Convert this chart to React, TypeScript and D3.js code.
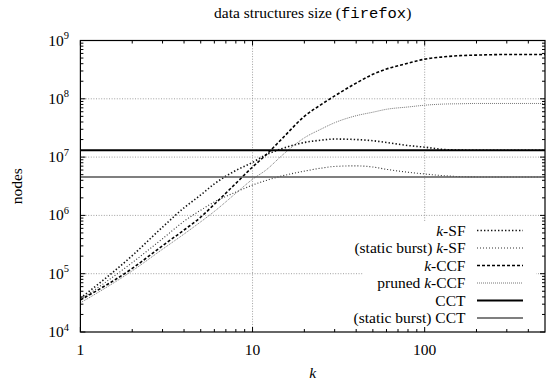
import React from 'react';
import * as d3 from 'd3';

// k values the series were sampled at
const kValues = [1, 2, 3, 4, 5, 6, 8, 10, 12, 15, 20, 25, 30, 40, 50, 60, 80, 100, 130, 160, 200, 300, 400, 500];

const kSF = [3.8e4, 2.04e5, 6.3e5, 1.35e6, 2.24e6, 3.47e6, 5.9e6, 8.1e6, 1.1e7, 1.41e7, 1.78e7, 1.95e7, 2.04e7, 2.0e7, 1.91e7, 1.78e7, 1.58e7, 1.48e7, 1.35e7, 1.32e7, 1.31e7, 1.31e7, 1.31e7, 1.31e7];
const staticKSF = [3.55e4, 1.55e5, 3.98e5, 7.94e5, 1.23e6, 1.7e6, 2.51e6, 3.31e6, 3.98e6, 4.79e6, 5.75e6, 6.46e6, 6.92e6, 7.08e6, 6.76e6, 6.17e6, 5.5e6, 5.13e6, 4.79e6, 4.62e6, 4.57e6, 4.56e6, 4.56e6, 4.56e6];
const kCCF = [3.55e4, 1.23e5, 3.02e5, 5.62e5, 9.33e5, 1.55e6, 3.55e6, 6.76e6, 1.1e7, 2.14e7, 5.0e7, 7.94e7, 1.12e8, 1.86e8, 2.63e8, 3.24e8, 4.07e8, 4.79e8, 5.25e8, 5.5e8, 5.62e8, 5.75e8, 5.75e8, 5.75e8];
const prunedKCCF = [3.16e4, 1.12e5, 2.63e5, 4.79e5, 7.76e5, 1.17e6, 2.4e6, 4.17e6, 6.03e6, 1.1e7, 2.14e7, 3.02e7, 3.89e7, 5.13e7, 5.89e7, 6.61e7, 7.24e7, 7.76e7, 8.13e7, 8.22e7, 8.32e7, 8.32e7, 8.32e7, 8.32e7];
const cctValue = 1.31e7;
const staticCctValue = 4.56e6;

const legendLabels = ['k-SF', '(static burst) k-SF', 'k-CCF', 'pruned k-CCF', 'CCT', '(static burst) CCT'];
const xTickValues = [1, 10, 100];
const yTickExponents = [4, 5, 6, 7, 8, 9];

const W = 550;
const H = 384;
const left = 80.4;
const right = 545;
const top = 40.5;
const bottom = 332;

const serif = '"Liberation Serif", "Times New Roman", serif';
const mono = '"Liberation Mono", "Courier New", monospace';
const fs = 15.5;

const styles = [
  { stroke: '#111', width: 1.6, dash: '1.4,2.1' },
  { stroke: '#333', width: 1.1, dash: '1,2' },
  { stroke: '#000', width: 1.6, dash: '3,2' },
  { stroke: '#777', width: 1, dash: '1,1' },
  { stroke: '#000', width: 2, dash: undefined },
  { stroke: '#555', width: 1.4, dash: undefined },
];

function Label({ text }: { text: string }) {
  const parts = text.split(/(\bk)(?=-)/);
  return (
    <>
      {parts.map((p, i) =>
        p === 'k' ? (
          <tspan key={i} fontStyle="italic">k</tspan>
        ) : (
          <tspan key={i}>{p}</tspan>
        )
      )}
    </>
  );
}

export default function App() {
  const x = d3.scaleLog().domain([1, 500]).range([left, right]);
  const y = d3.scaleLog().domain([1e4, 1e9]).range([bottom, top]);

  const line = d3
    .line<[number, number]>()
    .x((d) => x(d[0]))
    .y((d) => y(d[1]))
    .curve(d3.curveMonotoneX);

  const series = [
    kValues.map((k, i) => [k, kSF[i]] as [number, number]),
    kValues.map((k, i) => [k, staticKSF[i]] as [number, number]),
    kValues.map((k, i) => [k, kCCF[i]] as [number, number]),
    kValues.map((k, i) => [k, prunedKCCF[i]] as [number, number]),
    [[1, cctValue], [500, cctValue]] as [number, number][],
    [[1, staticCctValue], [500, staticCctValue]] as [number, number][],
  ];

  const xMinor: number[] = [];
  [1, 10, 100].forEach((d) => {
    for (let m = 2; m <= 9; m++) if (d * m < 500) xMinor.push(d * m);
  });
  const yMinor: number[] = [];
  [1e4, 1e5, 1e6, 1e7, 1e8].forEach((d) => {
    for (let m = 2; m <= 9; m++) yMinor.push(d * m);
  });

  const legendTextX = 465.5;
  const legendLine = [477, 523];
  const legendY0 = 230.5;
  const legendDy = 17.5;

  return (
    <svg width={W} height={H} style={{ position: 'absolute', left: 0, top: 0, background: '#fff', fontFamily: serif }}>
      <rect x={0} y={0} width={W} height={H} fill="#fff" />

      {/* title */}
      <text x={(left + right) / 2} y={18} textAnchor="middle" fontSize={fs}>
        data structures size (<tspan style={{ fontFamily: mono }}>firefox</tspan>)
      </text>

      {/* grid */}
      <g stroke="#888" strokeWidth={0.8} strokeDasharray="1,1.6">
        {xTickValues.slice(1).map((v) => (
          <line key={'gx' + v} x1={x(v)} x2={x(v)} y1={top} y2={bottom} />
        ))}
        {yTickExponents.slice(1, -1).map((e) => (
          <line key={'gy' + e} x1={left} x2={right} y1={y(10 ** e)} y2={y(10 ** e)} />
        ))}
      </g>

      {/* curves */}
      <g fill="none">
        {series.map((s, i) => (
          <path
            key={i}
            d={line(s) || ''}
            stroke={styles[i].stroke}
            strokeWidth={styles[i].width}
            strokeDasharray={styles[i].dash}
          />
        ))}
      </g>

      {/* legend */}
      <rect x={363} y={222} width={173} height={bottom - 222} fill="#fff" />
      {legendLabels.map((lab, i) => {
        const ly = legendY0 + i * legendDy;
        return (
          <g key={lab}>
            <text x={legendTextX} y={ly + 5} textAnchor="end" fontSize={fs}>
              <Label text={lab} />
            </text>
            <line
              x1={legendLine[0]}
              x2={legendLine[1]}
              y1={ly}
              y2={ly}
              stroke={styles[i].stroke}
              strokeWidth={styles[i].width}
              strokeDasharray={styles[i].dash}
            />
          </g>
        );
      })}

      {/* ticks */}
      <g stroke="#000" strokeWidth={1}>
        {xTickValues.map((v) => (
          <g key={'xt' + v}>
            <line x1={x(v)} x2={x(v)} y1={bottom} y2={bottom - 5} />
            <line x1={x(v)} x2={x(v)} y1={top} y2={top + 5} />
          </g>
        ))}
        {xMinor.map((v) => (
          <g key={'xm' + v}>
            <line x1={x(v)} x2={x(v)} y1={bottom} y2={bottom - 3} />
            <line x1={x(v)} x2={x(v)} y1={top} y2={top + 3} />
          </g>
        ))}
        {yTickExponents.map((e) => (
          <g key={'yt' + e}>
            <line x1={left} x2={left + 5} y1={y(10 ** e)} y2={y(10 ** e)} />
            <line x1={right} x2={right - 5} y1={y(10 ** e)} y2={y(10 ** e)} />
          </g>
        ))}
        {yMinor.map((v) => (
          <g key={'ym' + v}>
            <line x1={left} x2={left + 3} y1={y(v)} y2={y(v)} />
            <line x1={right} x2={right - 3} y1={y(v)} y2={y(v)} />
          </g>
        ))}
      </g>

      {/* frame */}
      <rect x={left} y={top} width={right - left} height={bottom - top} fill="none" stroke="#000" strokeWidth={1.2} />

      {/* tick labels */}
      {xTickValues.map((v) => (
        <text key={'xl' + v} x={x(v)} y={355} textAnchor="middle" fontSize={fs}>
          {v}
        </text>
      ))}
      {yTickExponents.map((e) => (
        <text key={'yl' + e} x={69} y={y(10 ** e) + 5} textAnchor="end" fontSize={fs}>
          10
          <tspan dy={-6.5} fontSize={10.5}>
            {e}
          </tspan>
        </text>
      ))}

      {/* axis titles */}
      <text x={(left + right) / 2} y={378} textAnchor="middle" fontSize={fs} fontStyle="italic">
        k
      </text>
      <text transform={`translate(22,${(top + bottom) / 2}) rotate(-90)`} textAnchor="middle" fontSize={fs}>
        nodes
      </text>
    </svg>
  );
}
